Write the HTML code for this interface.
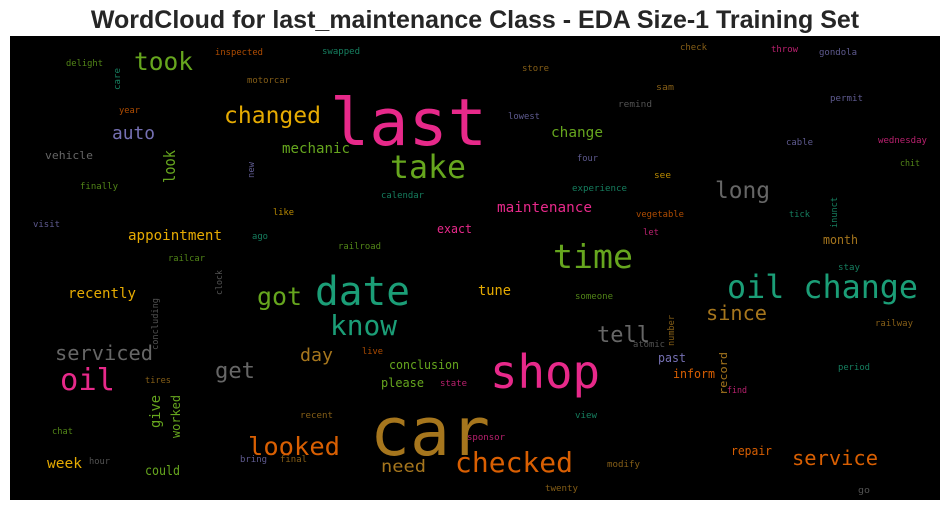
<!DOCTYPE html>
<html><head><meta charset="utf-8"><style>
html,body{margin:0;padding:0;background:#fff;}
svg{display:block;}
</style></head><body>
<svg id="wc" width="950" height="511" xmlns="http://www.w3.org/2000/svg">
<text x="475" y="28" text-anchor="middle" font-family="Liberation Sans, sans-serif" font-weight="bold" font-size="25" fill="#262626">WordCloud for last_maintenance Class - EDA Size-1 Training Set</text>
<rect x="10" y="36" width="930" height="464" fill="#000"/>
<g id="words"></g>
</svg>
<script>
const words=["last","car","shop","date","take","time","oil change","oil","know","got","checked","looked","changed","took","long","tell","since","service","serviced","get","auto","day","appointment","maintenance","mechanic","recently","tune","need","change","conclusion","please","exact","week","could","month","repair","inform","past","vehicle","finally","delight","year","inspected","motorcar","swapped","visit","like","ago","railcar","railroad","calendar","lowest","store","remind","sam","check","throw","gondola","permit","cable","wednesday","chit","see","four","experience","vegetable","let","tick","stay","someone","atomic","railway","period","find","live","state","tires","recent","view","sponsor","chat","hour","bring","final","modify","twenty","go","look","give","worked","record","care","new","clock","inunct","number","concluding"];
const xs=[330,370,490,315,390,553,727,60,330,257,455,248,224,134,715,597,706,792,55,215,112,300,128,497,282,68,478,381,551,389,381,437,47,145,823,731,673,658,45,80,66,119,215,247,322,33,273,252,168,338,381,508,522,618,656,680,771,819,830,786,878,900,654,577,572,636,643,789,838,575,633,875,838,727,362,440,145,300,575,467,52,89,240,280,607,545,858,175,160,180,727,120,254,222,837,674,158];
const ys=[145,455,388,305,178,268,298,390,335,305,472,455,123,70,198,342,320,465,360,378,139,361,240,212,153,298,295,472,137,369,387,233,468,475,244,455,378,362,159,189,66,113,55,83,54,227,215,239,261,249,198,119,71,107,90,50,52,55,101,145,143,166,178,161,191,217,235,217,270,299,347,326,370,393,354,386,383,418,418,440,434,464,462,462,467,491,493,183,428,438,395,90,178,295,228,346,350];
const widths=[157,120,110,95,76,80,191,55,67,45,118,92,97,59,55,53,61,86,98,40,43,33,94,95,68,68,33,45,52,70,43,35,35,35,35,41,42,28,48,38,37,21,48,43,38,27,21,16,37,43,43,32,27,34,18,27,27,38,33,27,49,20,17,21,55,48,16,21,22,38,32,38,32,20,21,27,26,33,22,38,21,21,27,27,33,33,12,33,33,43,43,22,16,25,31,31,52];
const sizes=[65,67,46,40,32,33,32,30,28,25,28,25,23,25,23,22,20,20,20,22,18,18,14,14,14,14,14,17,14,12,12,12,14,13,12,12,12,12,11,9,9,9,9,9,9,9,9,9,9,9,9,9,9,9,9,9,9,9,9,9,9,9,9,9,9,9,9,9,9,9,9,9,9,9,9,9,9,9,9,9,9,9,9,9,9,9,9,16,14,12,11,9,9,9,9,9,9];
const colorIdx=[3,6,3,0,4,4,0,3,0,4,1,1,5,4,7,7,6,1,7,7,2,6,5,3,4,5,5,6,4,4,4,3,5,4,6,1,1,2,7,4,4,1,1,6,0,2,5,0,4,4,0,2,6,7,6,6,3,2,2,2,3,4,5,2,0,1,3,0,0,4,7,6,0,3,1,3,6,6,0,3,4,7,2,6,6,6,7,4,4,4,6,0,2,7,0,6,7];
const rotated=[0,0,0,0,0,0,0,0,0,0,0,0,0,0,0,0,0,0,0,0,0,0,0,0,0,0,0,0,0,0,0,0,0,0,0,0,0,0,0,0,0,0,0,0,0,0,0,0,0,0,0,0,0,0,0,0,0,0,0,0,0,0,0,0,0,0,0,0,0,0,0,0,0,0,0,0,0,0,0,0,0,0,0,0,0,0,0,1,1,1,1,1,1,1,1,1,1];
const palette=["#1b9e77","#d95f02","#7570b3","#e7298a","#66a61e","#e6ab02","#a6761d","#666666"];
const g=document.getElementById('words');
const NS="http://www.w3.org/2000/svg";
for(let i=0;i<words.length;i++){
  const t=document.createElementNS(NS,'text');
  
  
  t.setAttribute('font-family','DejaVu Sans Mono, Liberation Mono, monospace');
  t.setAttribute('font-size',sizes[i]);
  t.setAttribute('fill',palette[colorIdx[i]]);
  if(sizes[i]<=9) t.setAttribute('fill-opacity','0.8');
  t.setAttribute('textLength',widths[i]);
  t.setAttribute('lengthAdjust','spacingAndGlyphs');
  if(rotated[i]){
    t.setAttribute('x',0);t.setAttribute('y',0);
    t.setAttribute('transform','translate('+xs[i]+','+ys[i]+') rotate(-90)');
  }else{
    t.setAttribute('x',xs[i]);t.setAttribute('y',ys[i]);
  }
  t.textContent=words[i];
  g.appendChild(t);
}
</script>
</body></html>
